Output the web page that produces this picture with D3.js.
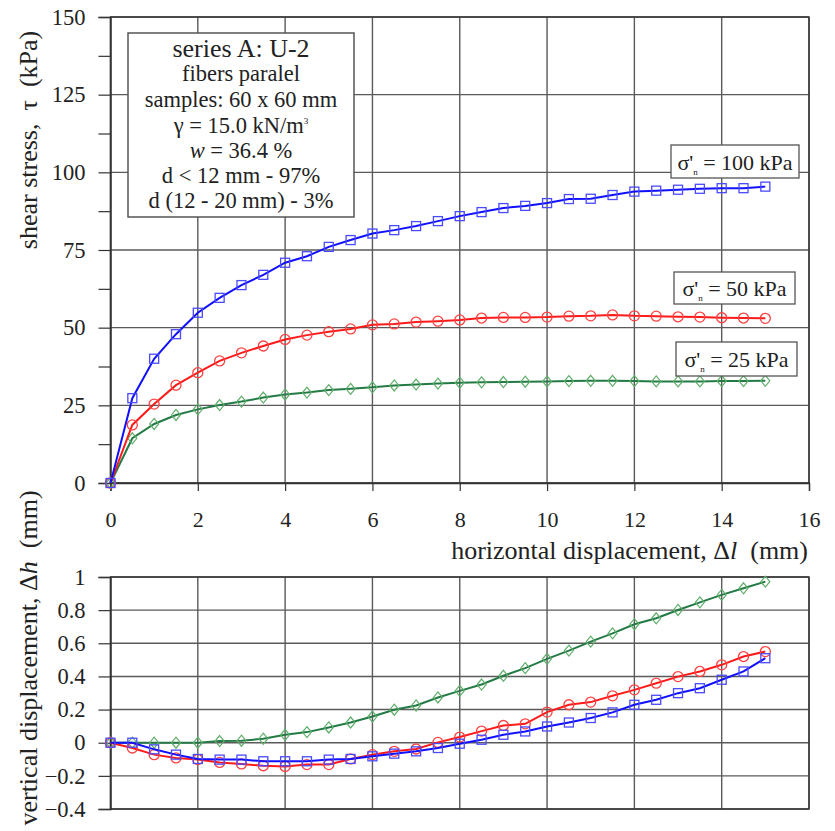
<!DOCTYPE html>
<html>
<head>
<meta charset="utf-8">
<script src="https://cdn.jsdelivr.net/npm/d3@7"></script>
<style>
  html, body { margin: 0; padding: 0; background: #fff; }
  svg { display: block; font-family: "Liberation Serif", "DejaVu Serif", serif; }
</style>
</head>
<body>
<svg id="chart" width="835" height="831"></svg>
<script>
// ---------- DATA ----------
const dispX = [0,0.5,1,1.5,2,2.5,3,3.5,4,4.5,5,5.5,6,6.5,7,7.5,8,8.5,9,9.5,10,10.5,11,11.5,12,12.5,13,13.5,14,14.5,15];

const shear100 = [0,27.3,40,47.9,54.8,59.6,63.7,67,70.9,73,76,78.2,80.3,81.4,82.7,84.3,85.9,87.2,88.5,89.2,90.1,91.4,91.5,92.7,93.8,94.1,94.4,94.7,94.9,94.9,95.4];
const shear50  = [0,18.7,25.4,31.5,35.5,39.3,41.9,44.1,46.2,47.6,48.7,49.6,50.9,51.2,51.8,52.1,52.5,53.1,53.3,53.3,53.4,53.7,53.8,54.1,53.8,53.7,53.5,53.4,53.2,53.1,53.0];
const shear25  = [0,14.4,19,21.9,23.7,25.1,26.2,27.5,28.5,29.1,29.9,30.3,30.8,31.4,31.7,32,32.3,32.4,32.5,32.6,32.7,32.8,32.9,32.9,32.8,32.7,32.7,32.7,32.8,32.8,32.9];

const vert100 = [0,0,-0.04,-0.072,-0.098,-0.102,-0.102,-0.112,-0.112,-0.112,-0.102,-0.098,-0.082,-0.066,-0.052,-0.032,-0.006,0.018,0.048,0.068,0.098,0.122,0.149,0.183,0.229,0.259,0.299,0.329,0.38,0.43,0.51];
const vert50  = [0,-0.032,-0.072,-0.092,-0.102,-0.119,-0.128,-0.139,-0.143,-0.132,-0.132,-0.098,-0.072,-0.052,-0.038,0.002,0.034,0.07,0.104,0.114,0.185,0.229,0.245,0.283,0.319,0.359,0.399,0.43,0.47,0.52,0.55];
const vert25  = [0,0,0,0,0,0.01,0.012,0.024,0.048,0.064,0.092,0.122,0.158,0.199,0.225,0.273,0.313,0.351,0.404,0.45,0.506,0.556,0.61,0.66,0.715,0.751,0.801,0.847,0.892,0.932,0.972];

const xTicks = [0,2,4,6,8,10,12,14,16];
const topMajor = [0,25,50,75,100,125,150];
const topMinor = [0,12.5,25,37.5,50,62.5,75,87.5,100,112.5,125,137.5,150];
const botTicks = [-0.4,-0.2,0,0.2,0.4,0.6,0.8,1];

const seriesNames = ["100 kPa","50 kPa","25 kPa"];
const infoLines = ["series A: U-2","fibers paralel","samples: 60 x 60 mm","γ = 15.0 kN/m³","w = 36.4 %","d < 12 mm - 97%","d (12 - 20 mm) - 3%"];

// ---------- LAYOUT ----------
const svg = d3.select("#chart");
const L = 110.5, R = 809;
const x = d3.scaleLinear().domain([0,16]).range([L,R]);
const yT = d3.scaleLinear().domain([0,150]).range([483,17]);
const yB = d3.scaleLinear().domain([-0.4,1]).range([809,577]);

const gridCol = "#5a5a5a", frameCol = "#333";

function panel(y, yTicksGrid, yTicksAxis, fmt, showX) {
  const g = svg.append("g");
  const [y0, y1] = y.range();
  g.selectAll(".vg").data(xTicks).enter().append("line")
    .attr("x1", d=>x(d)).attr("x2", d=>x(d)).attr("y1", y1).attr("y2", y0)
    .attr("stroke", gridCol).attr("stroke-width", 1.4);
  g.selectAll(".hg").data(yTicksGrid).enter().append("line")
    .attr("x1", L).attr("x2", R).attr("y1", d=>y(d)).attr("y2", d=>y(d))
    .attr("stroke", gridCol).attr("stroke-width", 1.4);
  g.append("rect").attr("x", L).attr("y", y1).attr("width", R-L).attr("height", y0-y1)
    .attr("fill","none").attr("stroke", frameCol).attr("stroke-width",1.4);
  const ya = d3.axisLeft(y).tickValues(yTicksAxis).tickSize(12).tickPadding(13)
    .tickFormat(d => yTicksGrid.includes(d) ? fmt(d) : "");
  const yg = g.append("g").attr("transform",`translate(${L},0)`).call(ya);
  yg.select(".domain").attr("stroke", frameCol).attr("stroke-width",1.4);
  yg.selectAll(".tick line").attr("stroke", frameCol).attr("stroke-width",1.2);
  yg.selectAll("text").attr("font-family","Liberation Serif").attr("font-size",22.5).attr("fill","#222");
  if (showX) {
    const xa = d3.axisBottom(x).tickValues(xTicks).tickSize(8).tickPadding(20).tickFormat(d3.format("d"));
    const xg = g.append("g").attr("transform",`translate(0,${y0})`).call(xa);
    xg.select(".domain").attr("stroke", frameCol).attr("stroke-width",1.4);
    xg.selectAll(".tick line").attr("stroke", frameCol).attr("stroke-width",1.2);
    xg.selectAll("text").attr("font-family","Liberation Serif").attr("font-size",22).attr("fill","#222");
  }
  return g;
}

panel(yT, topMajor, topMinor, d3.format("d"), true);
panel(yB, botTicks, botTicks, d => d === 0 ? "0" : (d === 1 ? "1" : d3.format(".1f")(d)), false);

// ---------- SERIES ----------
const styles = [
  {line:"#1010ff", mark:"#4a4aff", shape:"square"},
  {line:"#ff1a1a", mark:"#ff4040", shape:"circle"},
  {line:"#237a45", mark:"#5fae6a", shape:"diamond"}
];

function drawSeries(vals, y, st) {
  const pts = dispX.map((d,i)=>[d, vals[i]]);
  const line = d3.line().x(d=>x(d[0])).y(d=>y(d[1]));
  svg.append("path").datum(pts).attr("d", line).attr("fill","none")
    .attr("stroke", st.line).attr("stroke-width", 2);
  const g = svg.append("g");
  pts.forEach(p => {
    const cx = x(p[0]), cy = y(p[1]);
    if (st.shape === "square") {
      g.append("rect").attr("x", cx-4.5).attr("y", cy-4.5).attr("width",9).attr("height",9)
        .attr("fill","none").attr("stroke", st.mark).attr("stroke-width",1.3);
    } else if (st.shape === "circle") {
      g.append("circle").attr("cx", cx).attr("cy", cy).attr("r",5)
        .attr("fill","none").attr("stroke", st.mark).attr("stroke-width",1.3);
    } else {
      g.append("path").attr("d", `M${cx},${cy-5.5}L${cx+4.5},${cy}L${cx},${cy+5.5}L${cx-4.5},${cy}Z`)
        .attr("fill","none").attr("stroke", st.mark).attr("stroke-width",1.2);
    }
  });
}

drawSeries(shear25, yT, styles[2]);
drawSeries(shear50, yT, styles[1]);
drawSeries(shear100, yT, styles[0]);
drawSeries(vert25, yB, styles[2]);
drawSeries(vert50, yB, styles[1]);
drawSeries(vert100, yB, styles[0]);

// ---------- LABEL BOXES ----------
const boxes = [
  {x:671, y:145, w:128, h:33, ty:170},
  {x:674, y:272, w:121, h:32, ty:296},
  {x:676, y:342, w:121, h:34, ty:367}
];
boxes.forEach((b,i) => {
  svg.append("rect").attr("x",b.x).attr("y",b.y).attr("width",b.w).attr("height",b.h)
    .attr("fill","#fff").attr("stroke","#555").attr("stroke-width",1.3);
  const t = svg.append("text").attr("x", b.x + b.w/2).attr("y", b.ty)
    .attr("text-anchor","middle").attr("font-size",22).attr("fill","#222");
  t.append("tspan").text("σ'");
  t.append("tspan").attr("font-size",9).attr("dy",5).text("n");
  t.append("tspan").attr("dy",-5).text(" = " + seriesNames[i]);
});

// ---------- INFO BOX ----------
svg.append("rect").attr("x",128).attr("y",33).attr("width",226).attr("height",184)
  .attr("fill","#fff").attr("stroke","#555").attr("stroke-width",1.5);
const infoY = [57, 81, 107, 133, 158, 183, 208];
const infoSize = [26, 22.5, 22.5, 22.5, 22.5, 22.5, 22.5];
infoLines.forEach((s,i) => {
  const t = svg.append("text").attr("x",241).attr("y",infoY[i]).attr("text-anchor","middle")
    .attr("font-size", infoSize[i]).attr("fill","#222");
  if (i === 3) {
    t.append("tspan").text("γ = 15.0 kN/m");
    t.append("tspan").attr("font-size",9).attr("dy",-9).text("3");
  } else if (i === 4) {
    t.append("tspan").attr("font-style","italic").text("w");
    t.append("tspan").text(" = 36.4 %");
  } else {
    t.text(s);
  }
});

// ---------- AXIS TITLES ----------
const NB = "\u00a0";
const xt = svg.append("text").attr("x",808).attr("y",559).attr("text-anchor","end")
  .attr("font-size",26).attr("fill","#222");
xt.append("tspan").text("horizontal displacement, Δ");
xt.append("tspan").attr("font-style","italic").text("l");
xt.append("tspan").text(NB + NB + "(mm)");

const yt1 = svg.append("text").attr("transform","translate(37,140) rotate(-90)")
  .attr("text-anchor","middle").attr("font-size",26).attr("fill","#222");
yt1.text("shear stress," + NB + NB + "τ" + NB + NB + "(kPa)");

const yt2 = svg.append("text").attr("transform","translate(37,658) rotate(-90)")
  .attr("text-anchor","middle").attr("font-size",26).attr("fill","#222");
yt2.append("tspan").text("vertical displacement, Δ");
yt2.append("tspan").attr("font-style","italic").text("h");
yt2.append("tspan").text(NB + NB + "(mm)");
</script>
</body>
</html>
